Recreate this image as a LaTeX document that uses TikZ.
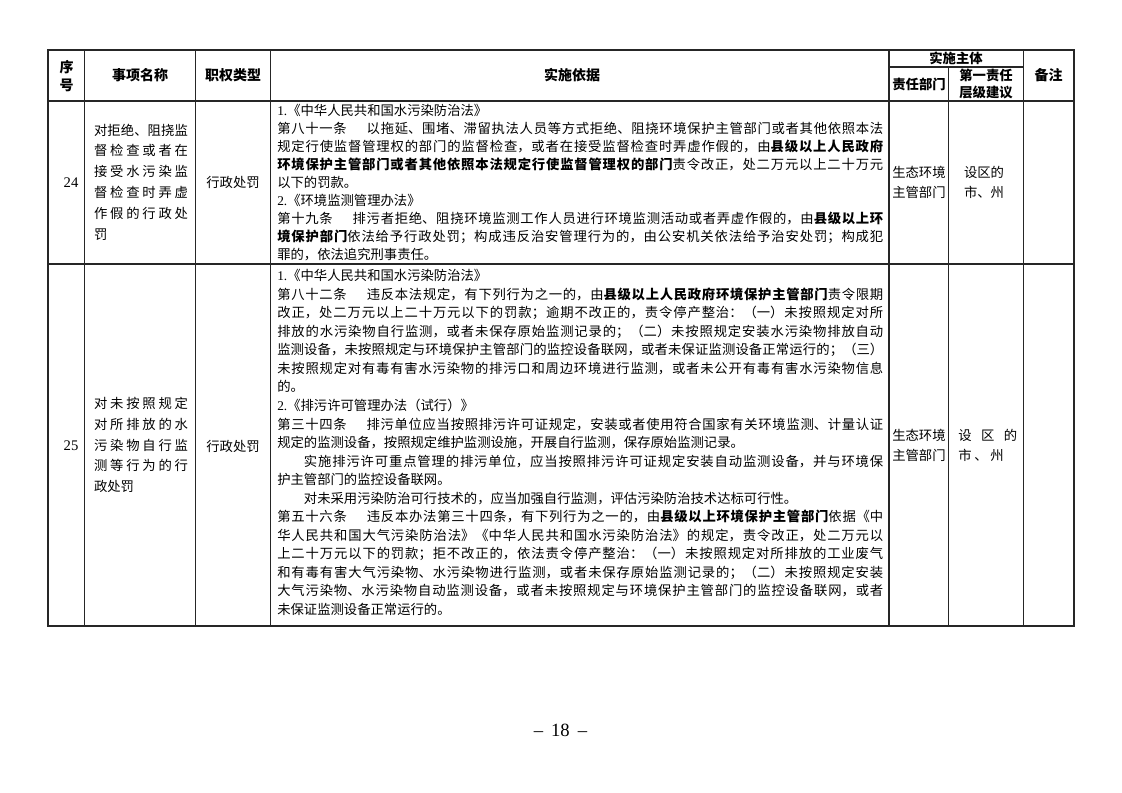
\documentclass[tikz,border=0pt]{standalone}
\usepackage{fontspec}
\setmainfont{Noto Sans CJK SC}
\newfontfamily\lat{Liberation Serif}
\XeTeXlinebreaklocale "zh"
\XeTeXlinebreakskip=0pt plus 1fil
\newcommand\JL[1]{{\parfillskip=0pt\relax #1\par}}
\newcommand\NL[1]{{\parfillskip=0pt plus 1fill\relax #1\par}}
\newcommand\cellsetup{\parindent=0pt\leftskip=0pt\rightskip=0pt\relax}
\newcommand\gap{\hspace{1.5em}}
\tikzset{
  tline/.style={line width=0.8pt, black!85},
  hd/.style={inner sep=0pt, font=\fontsize{10.5pt}{14pt}\selectfont\bfseries},
  hdsmall/.style={inner sep=0pt, font=\fontsize{10pt}{12.75pt}\selectfont\bfseries},
  txt/.style={inner sep=0pt, font=\fontsize{10pt}{15pt}\selectfont},
  body/.style={inner sep=0pt, anchor=west, text width=454.5pt},
  namecell/.style={inner sep=0pt, text width=70.5pt, font=\fontsize{10pt}{15.6pt}\selectfont},
  numcell/.style={inner sep=0pt, font=\lat\fontsize{11pt}{11pt}\selectfont}
}
\begin{document}
\begin{tikzpicture}[x=0.75pt,y=-0.75pt]
\useasboundingbox[fill=white] (0,0) rectangle (1122,793);
% table rules
\draw[tline] (48,50) rectangle (1074,626);
\foreach \x in {84.5,195.5,270.5,889,1023.5} \draw[tline] (\x,50) -- (\x,626);
\draw[tline] (948.5,67) -- (948.5,626);
\draw[tline] (889,67) -- (1023.5,67);
\draw[tline] (48,101) -- (1074,101);
\draw[tline] (48,264) -- (1074,264);
% header
\node[hd, align=center] (hxh) at (66.5,76) {序\\号};
\node[hd] (hname) at (140,75.5) {事项名称};
\node[hd] (htype) at (233,75.5) {职权类型};
\node[hd] (hbasis) at (572,75.5) {实施依据};
\node[hdsmall] (hbody) at (956,58.5) {实施主体};
\node[hdsmall] (hdept) at (919,84) {责任部门};
\node[hdsmall, align=center] (hlevel) at (986,84) {第一责任\\层级建议};
\node[hd] (hnote) at (1048.5,75.5) {备注};
% row 24
\node[numcell] (n24) at (71,183) {24};
\node[namecell] (name24) at (141,182) {\cellsetup
\JL{对拒绝、阻挠监}
\JL{督检查或者在}
\JL{接受水污染监}
\JL{督检查时弄虚}
\JL{作假的行政处}
\NL{罚}};
\node[txt] (type24) at (233,182) {行政处罚};
\node[body, font=\fontsize{10pt}{13.55pt}\selectfont] (body24) at (277,182.5) {\cellsetup
\NL{{\lat 1.}《中华人民共和国水污染防治法》}
\JL{第八十一条\gap 以拖延、围堵、滞留执法人员等方式拒绝、阻挠环境保护主管部门或者其他依照本法}
\JL{规定行使监督管理权的部门的监督检查，或者在接受监督检查时弄虚作假的，由\textbf{县级以上人民政府}}
\JL{\textbf{环境保护主管部门或者其他依照本法规定行使监督管理权的部门}责令改正，处二万元以上二十万元}
\NL{以下的罚款。}
\NL{{\lat 2.}《环境监测管理办法》}
\JL{第十九条\gap 排污者拒绝、阻挠环境监测工作人员进行环境监测活动或者弄虚作假的，由\textbf{县级以上环}}
\JL{\textbf{境保护部门}依法给予行政处罚；构成违反治安管理行为的，由公安机关依法给予治安处罚；构成犯}
\NL{罪的，依法追究刑事责任。}};
\node[txt, anchor=west, align=left] (dept24) at (892,182) {生态环境\\主管部门};
\node[txt, align=center] (level24) at (984,182) {设区的\\\makebox[3em][s]{市\hfill 、\hfill 州}};
% row 25
\node[numcell] (n25) at (71,446) {25};
\node[namecell] (name25) at (141,445) {\cellsetup
\JL{对未按照规定}
\JL{对所排放的水}
\JL{污染物自行监}
\JL{测等行为的行}
\NL{政处罚}};
\node[txt] (type25) at (233,446) {行政处罚};
\node[body, font=\fontsize{10pt}{13.9pt}\selectfont] (body25) at (277,442.5) {\cellsetup
\NL{{\lat 1.}《中华人民共和国水污染防治法》}
\JL{第八十二条\gap 违反本法规定，有下列行为之一的，由\textbf{县级以上人民政府环境保护主管部门}责令限期}
\JL{改正，处二万元以上二十万元以下的罚款；逾期不改正的，责令停产整治：（一）未按照规定对所}
\JL{排放的水污染物自行监测，或者未保存原始监测记录的；（二）未按照规定安装水污染物排放自动}
\JL{监测设备，未按照规定与环境保护主管部门的监控设备联网，或者未保证监测设备正常运行的；（三）}
\JL{未按照规定对有毒有害水污染物的排污口和周边环境进行监测，或者未公开有毒有害水污染物信息}
\NL{的。}
\NL{{\lat 2.}《排污许可管理办法（试行）》}
\JL{第三十四条\gap 排污单位应当按照排污许可证规定，安装或者使用符合国家有关环境监测、计量认证}
\NL{规定的监测设备，按照规定维护监测设施，开展自行监测，保存原始监测记录。}
\JL{\hspace*{2em}实施排污许可重点管理的排污单位，应当按照排污许可证规定安装自动监测设备，并与环境保}
\NL{护主管部门的监控设备联网。}
\NL{\hspace*{2em}对未采用污染防治可行技术的，应当加强自行监测，评估污染防治技术达标可行性。}
\JL{第五十六条\gap 违反本办法第三十四条，有下列行为之一的，由\textbf{县级以上环境保护主管部门}依据《中}
\JL{华人民共和国大气污染防治法》《中华人民共和国水污染防治法》的规定，责令改正，处二万元以}
\JL{上二十万元以下的罚款；拒不改正的，依法责令停产整治：（一）未按照规定对所排放的工业废气}
\JL{和有毒有害大气污染物、水污染物进行监测，或者未保存原始监测记录的；（二）未按照规定安装}
\JL{大气污染物、水污染物自动监测设备，或者未按照规定与环境保护主管部门的监控设备联网，或者}
\NL{未保证监测设备正常运行的。}};
\node[txt, anchor=west, align=left] (dept25) at (892,445) {生态环境\\主管部门};
\node[txt, anchor=west, text width=44.25pt] (level25) at (958,445) {\cellsetup\fontsize{10pt}{15pt}\selectfont
\JL{设区的}
\NL{市\hspace{2pt}、\hspace{2pt}州}};
% page number
\node[inner sep=0pt, font=\lat\fontsize{14pt}{14pt}\selectfont] (page) at (560.5,730) {\textendash\hspace{6pt}18\hspace{6pt}\textendash};
\end{tikzpicture}
\end{document}
